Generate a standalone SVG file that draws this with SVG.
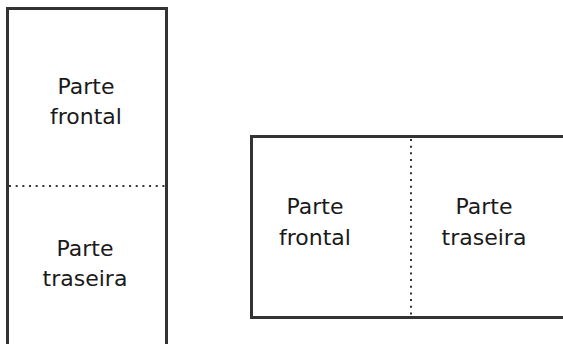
<svg xmlns="http://www.w3.org/2000/svg" width="563" height="344" viewBox="0 0 563 344">
<style>
.box{fill:#fff;stroke:#333;stroke-width:3}
.dot{stroke:#333;stroke-width:2;stroke-dasharray:2 4.67;fill:none}
text{font-family:"DejaVu Sans",Verdana,sans-serif;font-size:22px;fill:#1a1a1a;text-anchor:middle}
</style>
<rect width="563" height="344" fill="#fff"/>
<g id="portrait">
<rect class="box" x="7.5" y="8.5" width="159" height="360"/>
</g>
<g id="landscape">
<rect class="box" x="251.5" y="136.5" width="340" height="181"/>
</g>
<g id="connectors">
<line class="dot" x1="9" y1="186" x2="165" y2="186"/>
<line class="dot" x1="411" y1="139" x2="411" y2="316"/>
</g>
<g id="portrait-front"><text x="86" y="94">Parte</text><text x="86" y="124">frontal</text></g>
<g id="portrait-back"><text x="85" y="256">Parte</text><text x="85" y="286">traseira</text></g>
<g id="landscape-front"><text x="315" y="214">Parte</text><text x="315" y="245">frontal</text></g>
<g id="landscape-back"><text x="484" y="214">Parte</text><text x="484" y="245">traseira</text></g>
</svg>
